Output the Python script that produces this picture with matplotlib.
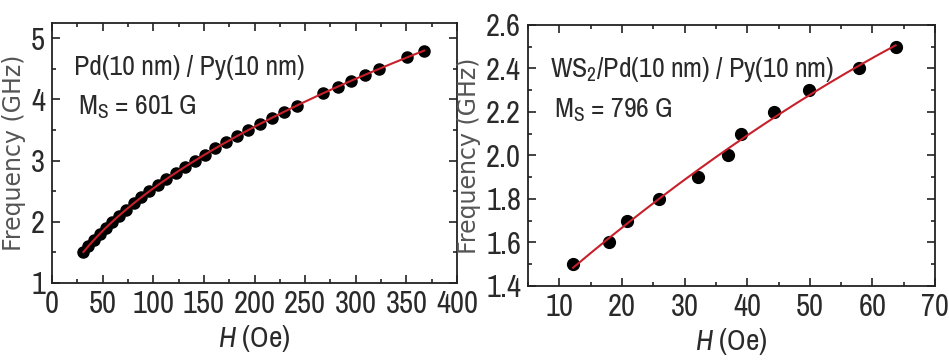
import matplotlib
matplotlib.use("Agg")
import matplotlib.pyplot as plt
from matplotlib import font_manager as fm
import numpy as np

# left panel: Pd(10 nm)/Py(10 nm)
h_pd = [31, 36, 41.5, 47, 53, 59.5, 66, 73, 80.5, 88, 96,
        104.5, 113, 122, 131, 141, 151, 161, 171.5, 182.5, 193.5,
        205, 217, 229, 241.5, 268, 282, 295.5, 309.5, 322.5,
        351, 367.5]
f_pd = [1.5, 1.6, 1.7, 1.8, 1.9, 2.0, 2.1, 2.2, 2.3, 2.4, 2.5,
        2.6, 2.7, 2.8, 2.9, 3.0, 3.1, 3.2, 3.3, 3.4, 3.5,
        3.6, 3.7, 3.8, 3.9, 4.1, 4.2, 4.3, 4.4, 4.5,
        4.7, 4.8]

# right panel: WS2/Pd(10 nm)/Py(10 nm)
h_ws = [12.2, 17.9, 20.8, 25.9, 32.2, 36.9, 39.0, 44.3, 49.9, 57.9, 63.7]
f_ws = [1.5, 1.6, 1.7, 1.8, 1.9, 2.0, 2.1, 2.2, 2.3, 2.4, 2.5]

TXT = "#2a2a2a"

# look for a narrow sans, the original uses a condensed Helvetica-like face
narrow = None
for f in fm.fontManager.ttflist:
    if "Narrow" in f.name or "Condensed" in f.name:
        narrow = f.name
        break
if narrow is None:
    for f in fm.fontManager.ttflist:
        if f.stretch in ("condensed", "semi-condensed", 500 - 125):
            narrow = f.name
            break
FAM = [narrow] if narrow else []
FAM += ["DejaVu Sans"]
plt.rcParams["font.family"] = FAM
plt.rcParams["font.stretch"] = "condensed"
plt.rcParams["mathtext.fontset"] = "custom"
plt.rcParams["mathtext.rm"] = FAM[0]
plt.rcParams["mathtext.it"] = FAM[0] + ":italic"


def fit_line(h, f, hgrid, sq):
    h = np.asarray(h)
    f = np.asarray(f)
    if sq:
        c = np.polyfit(h, f ** 2, 2)
        return np.sqrt(np.polyval(c, hgrid))
    c = np.polyfit(h, f, 2)
    return np.polyval(c, hgrid)


def style(ax):
    ax.tick_params(which="both", direction="in", top=True, right=True,
                   labelsize=22, colors="#222222", labelcolor=TXT, width=1.2,
                   pad=5)
    ax.tick_params(which="major", length=6)
    ax.tick_params(which="minor", length=3)
    for s in ax.spines.values():
        s.set_linewidth(1.3)
        s.set_color("#222222")
    ax.set_xlabel("$\\mathit{H}$ (Oe)", fontsize=21, color=TXT, labelpad=4)
    ax.set_ylabel("Frequency (GHz)", fontsize=17, color="#555555",
                  family="DejaVu Sans", fontstretch="normal", labelpad=4)


fig = plt.figure(figsize=(9.49, 3.6), dpi=100)

ax1 = fig.add_axes([0.0548, 0.214, 0.4268, 0.722])
ax2 = fig.add_axes([0.5564, 0.2056, 0.4289, 0.725])

hg1 = np.linspace(min(h_pd), max(h_pd), 200)
ax1.plot(h_pd, f_pd, "o", color="black", ms=8, zorder=2)
ax1.plot(hg1, fit_line(h_pd, f_pd, hg1, True), color="#c8202a", lw=1.5, zorder=3)
ax1.set_xlim(0, 400)
ax1.set_ylim(1, 5.25)
ax1.set_xticks(np.arange(0, 401, 50))
ax1.set_xticks(np.arange(25, 400, 50), minor=True)
ax1.set_yticks([1, 2, 3, 4, 5])
ax1.set_yticks([1.5, 2.5, 3.5, 4.5], minor=True)
style(ax1)
ax1.text(0.055, 0.83, "Pd(10 nm) / Py(10 nm)", transform=ax1.transAxes,
         fontsize=20, color=TXT, va="center")
ax1.text(0.065, 0.675, "M$_\\mathregular{S}$ = 601 G", transform=ax1.transAxes,
         fontsize=20, color=TXT, va="center")

hg2 = np.linspace(min(h_ws), max(h_ws), 200)
ax2.plot(h_ws, f_ws, "o", color="black", ms=8.5, zorder=2)
ax2.plot(hg2, fit_line(h_ws, f_ws, hg2, False), color="#c8202a", lw=1.5, zorder=3)
ax2.set_xlim(5, 70)
ax2.set_ylim(1.4, 2.6)
ax2.set_xticks(np.arange(10, 71, 10))
ax2.set_xticks(np.arange(5, 70, 5), minor=True)
ax2.set_yticks(np.arange(1.4, 2.61, 0.2))
ax2.set_yticks(np.arange(1.5, 2.6, 0.2), minor=True)
ax2.yaxis.set_major_formatter(matplotlib.ticker.FormatStrFormatter("%.1f"))
style(ax2)
ax2.text(0.055, 0.83, "WS$_\\mathregular{2}$/Pd(10 nm) / Py(10 nm)",
         transform=ax2.transAxes, fontsize=20, color=TXT, va="center")
ax2.text(0.065, 0.675, "M$_\\mathregular{S}$ = 796 G", transform=ax2.transAxes,
         fontsize=20, color=TXT, va="center")

fig.savefig("out.png", dpi=100)
